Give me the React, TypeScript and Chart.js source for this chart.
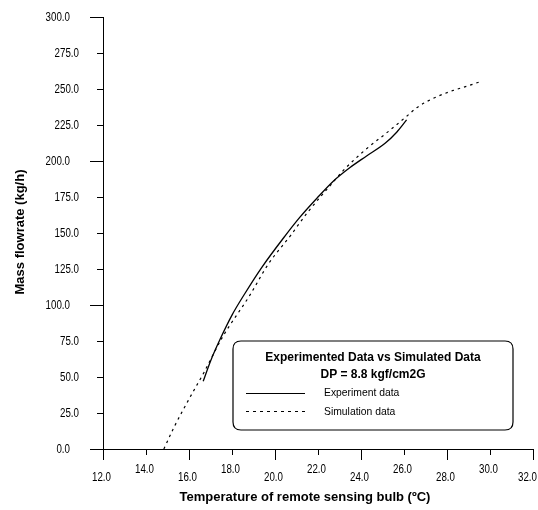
import { useEffect, useRef } from 'react';
import { Chart, registerables } from 'chart.js';

Chart.register(...registerables);

// Experiment data (solid line)
const expTemp = [16.66, 17.0, 17.44, 18.0, 18.6, 19.38, 20.47, 21.16, 21.94, 22.71, 23.49, 24.26, 25.12, 25.66, 26.12];
const expFlow = [47, 61, 76, 93, 108, 126, 148, 161, 174, 186, 195.5, 203.5, 212.3, 220, 228.5];

// Simulation data (dashed line)
const simTemp = [14.83, 15.3, 16.05, 16.69, 17.53, 18.84, 19.67, 20.74, 21.5, 22.8, 23.18, 24.26, 25.19, 26.12, 26.59, 27.36, 28.29, 29.0, 29.53];
const simFlow = [0, 15, 36, 53, 77, 107, 128, 148.6, 164, 187, 193.5, 208.5, 219.5, 231, 237, 243.5, 249, 252.3, 255];

const xTitle = 'Temperature of remote sensing bulb (\u00BAC)';
const yTitle = 'Mass flowrate (kg/h)';
const legendTitle = 'Experimented Data vs Simulated Data';
const legendSubtitle = 'DP = 8.8 kgf/cm2G';
const seriesNames = ['Experiment data', 'Simulation data'];

const SANS = "'Liberation Sans', Arial, Helvetica, sans-serif";

const isMajorX = (v: number) => Math.round((v - 12) / 2) % 2 === 0;
const isMajorY = (v: number) => Math.round(v) % 100 === 0;

function narrowText(ctx: any, text: string, x: number, y: number, align: string, sx: number) {
  ctx.save();
  ctx.translate(x, y);
  ctx.scale(sx, 1);
  ctx.textAlign = align;
  ctx.fillText(text, 0, 0);
  ctx.restore();
}

const decorPlugin = {
  id: 'decor',
  afterDraw(chart: any) {
    const { ctx, chartArea } = chart;
    const xs = chart.scales.x;
    const ys = chart.scales.y;
    ctx.save();
    ctx.strokeStyle = '#000';
    ctx.fillStyle = '#000';
    ctx.lineWidth = 1;
    ctx.setLineDash([]);
    ctx.textBaseline = 'middle';
    ctx.font = `12.5px ${SANS}`;
    const sx = 0.78;
    // x ticks (downward) + staggered labels
    xs.ticks.forEach((t: any) => {
      const px = Math.round(xs.getPixelForValue(t.value)) + 0.5;
      const major = isMajorX(t.value);
      const len = major ? 11 : 6;
      ctx.beginPath();
      ctx.moveTo(px, chartArea.bottom);
      ctx.lineTo(px, chartArea.bottom + len);
      ctx.stroke();
      const label = Number(t.value).toFixed(1);
      const half = (ctx.measureText(label).width * sx) / 2;
      const cx = Math.min(px - 2, chart.width - half - 1);
      narrowText(ctx, label, cx, chartArea.bottom + (major ? 29 : 21), 'center', sx);
    });
    // y ticks (leftward) + labels
    ys.ticks.forEach((t: any) => {
      const py = Math.round(ys.getPixelForValue(t.value)) + 0.5;
      const major = isMajorY(t.value);
      const len = major ? 13 : 6;
      ctx.beginPath();
      ctx.moveTo(chartArea.left - len, py);
      ctx.lineTo(chartArea.left, py);
      ctx.stroke();
      const label = Number(t.value).toFixed(1);
      narrowText(ctx, label, chartArea.left - (major ? 33 : 24), py, 'right', sx);
    });

    // axis titles
    ctx.font = `bold 13px ${SANS}`;
    ctx.textAlign = 'center';
    ctx.fillText(xTitle, chartArea.left + 202, chartArea.bottom + 48);
    ctx.save();
    ctx.translate(20, (chartArea.top + chartArea.bottom) / 2 - 1);
    ctx.rotate(-Math.PI / 2);
    ctx.fillText(yTitle, 0, 0);
    ctx.restore();

    // legend box
    const bx = chartArea.left + 130;
    const by = chartArea.top + 324;
    const bw = 280;
    const bh = 89;
    const r = 8;
    ctx.beginPath();
    ctx.moveTo(bx + r, by);
    ctx.lineTo(bx + bw - r, by);
    ctx.quadraticCurveTo(bx + bw, by, bx + bw, by + r);
    ctx.lineTo(bx + bw, by + bh - r);
    ctx.quadraticCurveTo(bx + bw, by + bh, bx + bw - r, by + bh);
    ctx.lineTo(bx + r, by + bh);
    ctx.quadraticCurveTo(bx, by + bh, bx, by + bh - r);
    ctx.lineTo(bx, by + r);
    ctx.quadraticCurveTo(bx, by, bx + r, by);
    ctx.closePath();
    ctx.lineWidth = 1.2;
    ctx.stroke();

    ctx.font = `bold 12px ${SANS}`;
    ctx.textAlign = 'center';
    ctx.fillText(legendTitle, bx + 140, by + 17);
    ctx.fillText(legendSubtitle, bx + 140, by + 34);

    ctx.lineWidth = 1;
    ctx.beginPath();
    ctx.moveTo(bx + 13, by + 52.5);
    ctx.lineTo(bx + 72, by + 52.5);
    ctx.stroke();
    ctx.setLineDash([3, 4]);
    ctx.beginPath();
    ctx.moveTo(bx + 13, by + 70.5);
    ctx.lineTo(bx + 72, by + 70.5);
    ctx.stroke();
    ctx.setLineDash([]);

    ctx.font = `11.5px ${SANS}`;
    narrowText(ctx, seriesNames[0], bx + 91, by + 52, 'left', 0.9);
    narrowText(ctx, seriesNames[1], bx + 91, by + 71, 'left', 0.9);
    ctx.restore();
  },
};

export default function App() {
  const ref = useRef<HTMLCanvasElement | null>(null);

  useEffect(() => {
    document.body.style.margin = '0';
    const canvas = ref.current;
    if (!canvas) return;
    const chart = new Chart(canvas, {
      type: 'scatter',
      data: {
        datasets: [
          {
            label: seriesNames[0],
            data: expTemp.map((t, i) => ({ x: t, y: expFlow[i] })),
            showLine: true,
            borderColor: '#000',
            borderWidth: 1.3,
            pointRadius: 0,
            cubicInterpolationMode: 'monotone',
          },
          {
            label: seriesNames[1],
            data: simTemp.map((t, i) => ({ x: t, y: simFlow[i] })),
            showLine: true,
            borderColor: '#000',
            borderWidth: 1.2,
            borderDash: [2.5, 4],
            pointRadius: 0,
            cubicInterpolationMode: 'monotone',
          },
        ],
      },
      options: {
        responsive: false,
        animation: false,
        layout: { padding: { top: 17, right: 5, left: 0, bottom: 0 } },
        plugins: {
          legend: { display: false },
          tooltip: { enabled: false },
        },
        scales: {
          x: {
            type: 'linear',
            min: 12,
            max: 32,
            afterFit: (s: any) => {
              s.height = 61;
              s.paddingLeft = 0;
              s.paddingRight = 0;
            },
            ticks: { stepSize: 2, display: false, autoSkip: false },
            grid: { display: false },
            border: { display: true, color: '#000', width: 1 },
          },
          y: {
            type: 'linear',
            min: 0,
            max: 300,
            afterFit: (s: any) => {
              s.width = 103;
              s.paddingTop = 0;
              s.paddingBottom = 0;
            },
            ticks: { stepSize: 25, display: false, autoSkip: false },
            grid: { display: false },
            border: { display: true, color: '#000', width: 1 },
          },
        },
      },
      plugins: [decorPlugin],
    } as any);
    return () => chart.destroy();
  }, []);

  return (
    <div style={{ width: 538, height: 510, background: '#fff' }}>
      <canvas ref={ref} width={538} height={510} style={{ display: 'block' }} />
    </div>
  );
}
